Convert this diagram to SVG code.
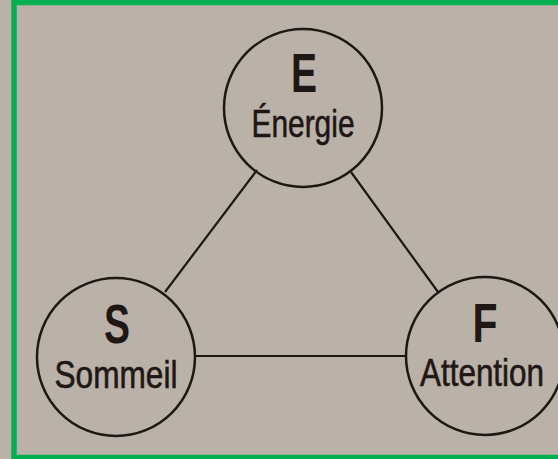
<svg xmlns="http://www.w3.org/2000/svg" width="558" height="459" viewBox="0 0 558 459">
  <style>
    .node circle { fill: none; stroke: #1e1714; stroke-width: 2.5; }
    .edge { stroke: #1e1714; stroke-width: 2.2; fill: none; }
    .big { font-family: "Liberation Sans", Arial, sans-serif; font-weight: bold; font-size: 55px; fill: #1e1714; text-anchor: middle; }
    .lbl { font-family: "Liberation Sans", Arial, sans-serif; font-size: 38px; fill: #1e1714; stroke: #1e1714; stroke-width: 0.6; text-anchor: middle; }
  </style>
  <!-- paper background -->
  <rect x="0" y="0" width="558" height="459" fill="#bab1a9"/>
  <!-- frame -->
  <rect x="14" y="2.5" width="580" height="455" fill="none" stroke="#00b050" stroke-width="5.5"/>

  <g id="connectors">
    <line class="edge" x1="257" y1="170" x2="165" y2="292"/>
    <line class="edge" x1="351" y1="172" x2="438" y2="292"/>
    <line class="edge" x1="196" y1="356" x2="407" y2="356"/>
  </g>

  <g id="node-E" class="node">
    <circle cx="303" cy="108" r="79"/>
    <text class="big" x="304" y="92" textLength="26" lengthAdjust="spacingAndGlyphs">E</text>
    <text class="lbl" x="303" y="137" textLength="103" lengthAdjust="spacingAndGlyphs">Énergie</text>
  </g>

  <g id="node-S" class="node">
    <circle cx="116" cy="357" r="79"/>
    <text class="big" x="117" y="343" textLength="26" lengthAdjust="spacingAndGlyphs">S</text>
    <text class="lbl" x="116" y="388" textLength="123" lengthAdjust="spacingAndGlyphs">Sommeil</text>
  </g>

  <g id="node-F" class="node">
    <circle cx="485" cy="356" r="79"/>
    <text class="big" x="485" y="342" textLength="25" lengthAdjust="spacingAndGlyphs">F</text>
    <text class="lbl" x="482" y="386" textLength="124" lengthAdjust="spacingAndGlyphs">Attention</text>
  </g>
</svg>
